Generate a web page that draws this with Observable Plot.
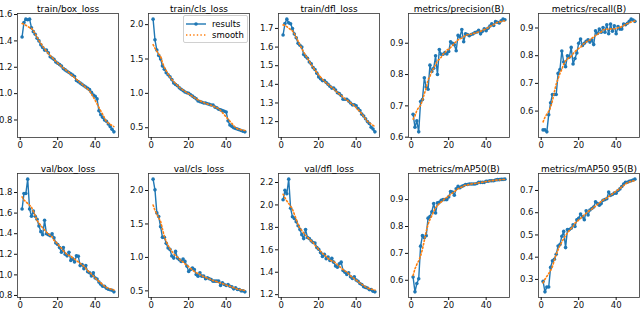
<!DOCTYPE html>
<html>
<head>
<meta charset="utf-8">
<script src="https://cdn.jsdelivr.net/npm/d3@7"></script>
<script src="https://cdn.jsdelivr.net/npm/@observablehq/plot@0.6"></script>
<style>
  html, body { margin: 0; padding: 0; background: #fff; }
  #root { position: relative; width: 640px; height: 311px; overflow: hidden; background: #fff; font-family: "DejaVu Sans", sans-serif; }
  #legend { position: absolute; left: 183px; top: 15px; width: 63px; height: 26px; border: 1px solid #d0d0d0; border-radius: 2px; background: rgba(255,255,255,0.85); font-size: 8.5px; color: #000; }
  #legend .row { position: absolute; left: 2px; height: 10px; display: flex; align-items: center; }
  #legend svg { margin-right: 6px; }
</style>
</head>
<body>
<div id="root"></div>
<script>
// ---- data ----
const epochs = d3.range(1, 51);
const xTicks = [0, 20, 40];

const titles = ["train/box_loss", "train/cls_loss", "train/dfl_loss", "metrics/precision(B)", "metrics/recall(B)",
                "val/box_loss", "val/cls_loss", "val/dfl_loss", "metrics/mAP50(B)", "metrics/mAP50 95(B)"];

const trainBox = [1.43,1.54,1.565,1.56,1.565,1.50,1.47,1.45,1.42,1.40,1.37,1.35,1.33,1.33,1.31,1.28,1.27,1.26,1.24,1.23,
  1.22,1.21,1.19,1.18,1.17,1.16,1.15,1.14,1.13,1.10,1.09,1.08,1.07,1.06,1.05,1.04,1.03,1.01,0.99,0.98,
  0.96,0.87,0.84,0.82,0.80,0.79,0.77,0.75,0.73,0.71];
const trainCls = [2.08,1.78,1.63,1.55,1.50,1.40,1.35,1.30,1.27,1.24,1.20,1.15,1.13,1.11,1.08,1.06,1.04,1.02,1.01,1.00,
  0.98,0.96,0.94,0.92,0.89,0.88,0.87,0.86,0.86,0.85,0.84,0.83,0.83,0.80,0.79,0.77,0.76,0.75,0.74,0.73,
  0.60,0.54,0.52,0.50,0.49,0.48,0.47,0.46,0.45,0.44];
const trainDfl = [1.665,1.726,1.75,1.73,1.725,1.70,1.67,1.65,1.62,1.61,1.60,1.56,1.55,1.54,1.52,1.51,1.49,1.48,1.46,1.44,
  1.43,1.42,1.42,1.41,1.40,1.39,1.38,1.38,1.37,1.355,1.35,1.34,1.32,1.32,1.32,1.31,1.30,1.29,1.29,1.285,
  1.27,1.26,1.24,1.23,1.215,1.20,1.19,1.17,1.16,1.145];
const precision = [0.673,0.632,0.652,0.617,0.714,0.72,0.79,0.76,0.753,0.83,0.81,0.82,0.86,0.80,0.88,0.865,0.865,0.87,0.866,0.874,
  0.905,0.90,0.895,0.876,0.925,0.92,0.944,0.905,0.93,0.928,0.924,0.928,0.93,0.934,0.936,0.941,0.93,0.938,0.946,0.94,
  0.948,0.955,0.962,0.957,0.969,0.967,0.965,0.972,0.977,0.975];
const recall = [0.532,0.532,0.525,0.587,0.63,0.66,0.66,0.66,0.736,0.75,0.817,0.777,0.76,0.80,0.795,0.83,0.77,0.79,0.81,0.845,
  0.86,0.837,0.845,0.852,0.857,0.849,0.857,0.84,0.89,0.88,0.896,0.885,0.902,0.885,0.912,0.879,0.914,0.888,0.908,0.879,
  0.905,0.896,0.896,0.914,0.912,0.917,0.924,0.932,0.929,0.924];
const valBox = [1.64,1.79,1.79,1.93,1.64,1.57,1.62,1.57,1.54,1.475,1.42,1.39,1.53,1.40,1.39,1.38,1.40,1.36,1.31,1.295,
  1.265,1.22,1.265,1.20,1.185,1.22,1.14,1.155,1.125,1.185,1.18,1.09,1.10,1.06,1.09,1.03,1.02,0.99,1.02,0.97,
  0.96,0.93,0.91,0.89,0.89,0.87,0.86,0.855,0.85,0.835];
const valCls = [2.17,2.01,1.665,1.61,1.46,1.30,1.30,1.21,1.14,1.12,1.02,0.99,1.09,0.99,0.965,0.94,0.975,0.94,0.87,0.79,
  0.82,0.84,0.82,0.745,0.72,0.77,0.72,0.72,0.68,0.695,0.68,0.67,0.645,0.645,0.645,0.645,0.58,0.62,0.595,0.58,
  0.595,0.57,0.56,0.53,0.545,0.52,0.52,0.50,0.50,0.485];
const valDfl = [2.046,2.13,2.10,2.23,1.97,1.895,1.88,1.85,1.815,1.78,1.735,1.70,1.78,1.71,1.70,1.68,1.665,1.66,1.62,1.605,
  1.575,1.54,1.56,1.52,1.535,1.505,1.525,1.49,1.455,1.445,1.475,1.49,1.415,1.40,1.38,1.395,1.36,1.345,1.36,1.33,
  1.32,1.30,1.29,1.27,1.265,1.26,1.245,1.245,1.23,1.225];
const map50 = [0.612,0.557,0.588,0.606,0.727,0.766,0.758,0.766,0.831,0.837,0.855,0.885,0.85,0.888,0.89,0.897,0.90,0.90,0.90,0.91,
  0.93,0.928,0.916,0.94,0.949,0.944,0.949,0.952,0.956,0.956,0.958,0.958,0.958,0.958,0.96,0.964,0.964,0.964,0.964,0.968,
  0.968,0.97,0.97,0.97,0.973,0.974,0.974,0.975,0.975,0.976];
const map5095 = [0.291,0.244,0.266,0.266,0.354,0.384,0.391,0.413,0.45,0.457,0.494,0.516,0.443,0.524,0.524,0.53,0.546,0.538,0.568,0.575,
  0.594,0.582,0.568,0.609,0.59,0.612,0.619,0.626,0.649,0.641,0.634,0.641,0.656,0.659,0.663,0.693,0.678,0.682,0.688,0.688,
  0.70,0.707,0.718,0.729,0.737,0.737,0.741,0.744,0.747,0.751];

const ticksTrainBox = [0.8, 1.0, 1.2, 1.4, 1.6];
const ticksTrainCls = [0.5, 1.0, 1.5, 2.0];
const ticksTrainDfl = [1.2, 1.3, 1.4, 1.5, 1.6, 1.7];
const ticksPrecision = [0.6, 0.7, 0.8, 0.9];
const ticksRecall = [0.6, 0.7, 0.8, 0.9];
const ticksValBox = [0.8, 1.0, 1.2, 1.4, 1.6, 1.8];
const ticksValCls = [0.5, 1.0, 1.5, 2.0];
const ticksValDfl = [1.2, 1.4, 1.6, 1.8, 2.0, 2.2];
const ticksMap50 = [0.6, 0.7, 0.8, 0.9];
const ticksMap5095 = [0.3, 0.4, 0.5, 0.6, 0.7];

const seriesList = [trainBox, trainCls, trainDfl, precision, recall, valBox, valCls, valDfl, map50, map5095];
const tickList = [ticksTrainBox, ticksTrainCls, ticksTrainDfl, ticksPrecision, ticksRecall,
                  ticksValBox, ticksValCls, ticksValDfl, ticksMap50, ticksMap5095];

// ---- layout ----
const colLefts = [17, 148, 278, 408, 538];
const rowTops = [13, 173];
const frameW = 101, frameH = 124;
const mL = 29, mR = 1, mT = 13, mB = 14;

const BLUE = "#1f77b4", ORANGE = "#ff7f0e";
const root = document.getElementById("root");

seriesList.forEach((vals, i) => {
  const col = i % 5, row = Math.floor(i / 5);
  const data = epochs.map((e, j) => ({epoch: e, value: vals[j]}));
  const lo = d3.min(vals), hi = d3.max(vals), pad = (hi - lo) * 0.05;
  const chart = Plot.plot({
    width: mL + frameW + mR,
    height: mT + frameH + mB,
    marginLeft: mL, marginRight: mR, marginTop: mT, marginBottom: mB,
    x: {domain: [-1.45, 52.45]},
    y: {domain: [lo - pad, hi + pad]},
    style: {fontFamily: "DejaVu Sans, sans-serif", fontSize: "8.5px", color: "#111", background: "transparent", overflow: "visible"},
    marks: [
      Plot.line(data, {x: "epoch", y: "value", stroke: BLUE, strokeWidth: 1.4}),
      Plot.dot(data, {x: "epoch", y: "value", r: 1.8, fill: BLUE, stroke: null}),
      Plot.line(data, Plot.windowY({k: 9, anchor: "middle", reduce: "mean", strict: false},
        {x: "epoch", y: "value", stroke: ORANGE, strokeWidth: 1.6, strokeDasharray: "1.4,2.2"})),
      Plot.frame({stroke: "#333", strokeWidth: 0.8}),
      Plot.axisX(xTicks, {tickSize: 3, tickPadding: 1.5, label: null, tickFormat: d => String(d), fontSize: 8.5}),
      Plot.axisY(tickList[i], {tickSize: 3, tickPadding: 2, label: null, tickFormat: d3.format(".1f"), fontSize: 8.5}),
      Plot.text([titles[i]], {text: d => d, frameAnchor: "top", dy: -8, fontSize: 9, fill: "#000"})
    ]
  });
  chart.style.position = "absolute";
  chart.style.left = (colLefts[col] - mL) + "px";
  chart.style.top = (rowTops[row] - mT) + "px";
  root.appendChild(chart);
});

// ---- legend (in the train/cls_loss panel) ----
const legend = document.createElement("div");
legend.id = "legend";
legend.innerHTML = `
  <div class="row" style="top:3px">
    <svg width="20" height="8"><line x1="0" y1="4" x2="20" y2="4" stroke="${BLUE}" stroke-width="1.4"/><circle cx="10" cy="4" r="1.8" fill="${BLUE}"/></svg>
    <span>results</span>
  </div>
  <div class="row" style="top:14px">
    <svg width="20" height="8"><line x1="0" y1="4" x2="20" y2="4" stroke="${ORANGE}" stroke-width="1.6" stroke-dasharray="1.4,2.2"/></svg>
    <span>smooth</span>
  </div>`;
root.appendChild(legend);
</script>
</body>
</html>
